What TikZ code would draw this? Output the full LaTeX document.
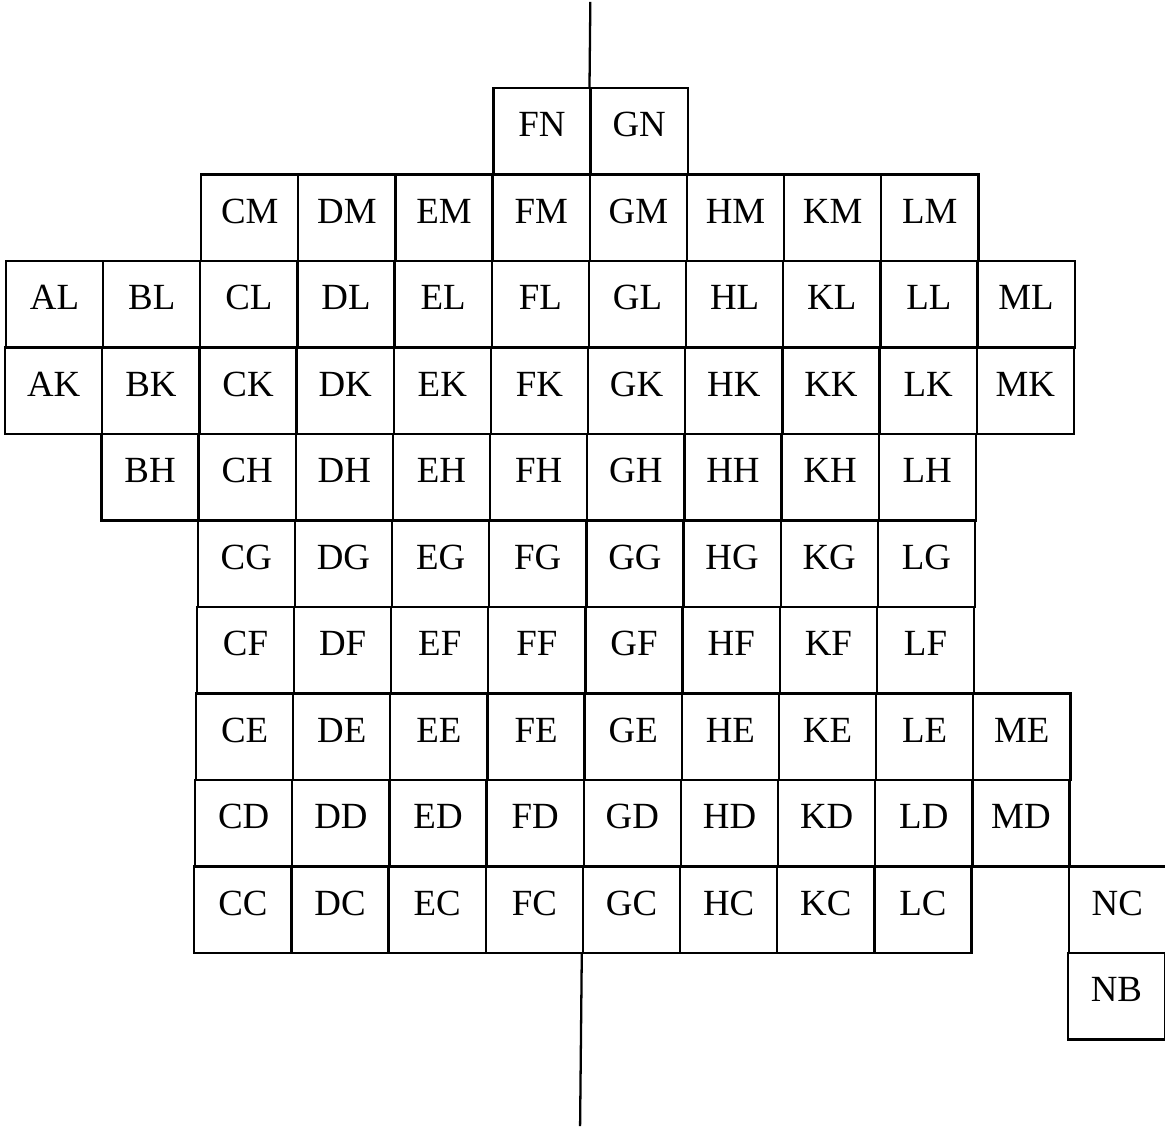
\documentclass[tikz,border=0pt]{standalone}
\usepackage{fontspec}
\setmainfont{Liberation Serif}
\usetikzlibrary{calc}

\begin{document}
\begin{tikzpicture}[
  x=0.02cm, y=0.02cm,
  cell/.style={draw, line width=1.3pt, minimum width=1.943cm, minimum height=1.73cm, inner sep=0pt,
    text height=0.49cm, text depth=0.27cm, font=\fontsize{21}{25}\selectfont},
  axis/.style={line width=1.3pt},
]
  \useasboundingbox (0,0) rectangle (1165,1128);
  \begin{scope}[xslant=0.0099]
  \foreach \r/\j/\cols in {
      N/0/{F/5,G/6},
      M/1/{C/2,D/3,E/4,F/5,G/6,H/7,K/8,L/9},
      L/2/{A/0,B/1,C/2,D/3,E/4,F/5,G/6,H/7,K/8,L/9,M/10},
      K/3/{A/0,B/1,C/2,D/3,E/4,F/5,G/6,H/7,K/8,L/9,M/10},
      H/4/{B/1,C/2,D/3,E/4,F/5,G/6,H/7,K/8,L/9},
      G/5/{C/2,D/3,E/4,F/5,G/6,H/7,K/8,L/9},
      F/6/{C/2,D/3,E/4,F/5,G/6,H/7,K/8,L/9},
      E/7/{C/2,D/3,E/4,F/5,G/6,H/7,K/8,L/9,M/10},
      D/8/{C/2,D/3,E/4,F/5,G/6,H/7,K/8,L/9,M/10},
      C/9/{C/2,D/3,E/4,F/5,G/6,H/7,K/8,L/9,N/11},
      B/10/{N/11}}
    \foreach \c/\i in \cols
      \node[cell] (\c\r) at (46.43+97.15*\i, 996.75-86.5*\j) {\c\r};

  \coordinate (axtop) at ($(GN.north west)+(0,85)$);
  \coordinate (axbot) at ($(GC.south west)+(0,-172)$);
  \draw[axis] (axtop) -- (GN.north west);
  \draw[axis] (GC.south west) -- (axbot);
  \end{scope}
\end{tikzpicture}
\end{document}
